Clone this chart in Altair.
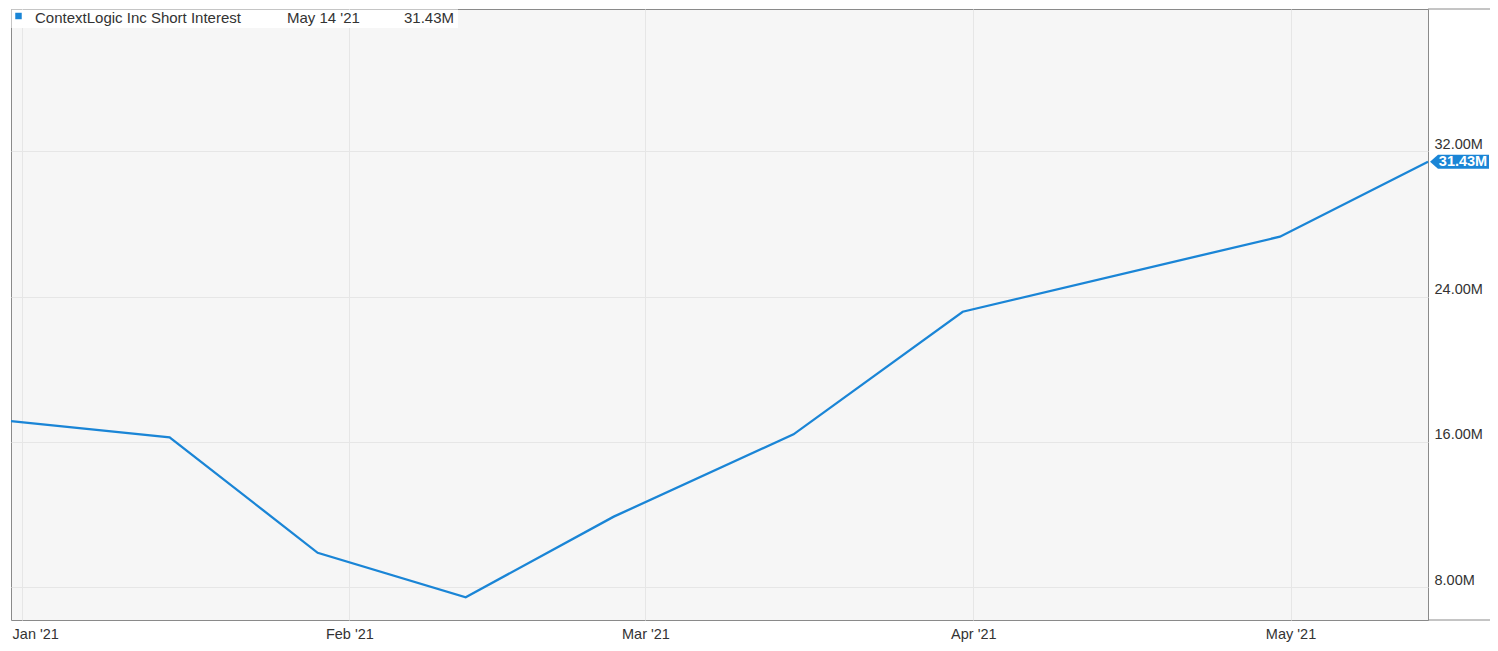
import altair as alt
import pandas as pd

# ---- data ----
dates = ["2020-12-31", "2021-01-15", "2021-01-29", "2021-02-12", "2021-02-26",
         "2021-03-15", "2021-03-31", "2021-04-30", "2021-05-14"]
values = [17.15, 16.26, 9.90, 7.45, 11.89, 16.42, 23.17, 27.30, 31.43]
series_name = "ContextLogic Inc Short Interest"
x_ticks = ["2021-01-01", "2021-02-01", "2021-03-01", "2021-04-01", "2021-05-01"]
y_ticks = [8, 16, 24, 32]
last_date_label = "May 14 '21"
last_value_label = "31.43M"

BLUE = "#1a85d6"
FONT = "Liberation Sans"
TXT = "#333333"
GRID = "#e6e6e6"
BORDER = "#8a8a8a"
W, H = 1417, 611
RIGHT_PAD = 62

df = pd.DataFrame({"date": dates, "value": values})
last = df.tail(1).assign(label=last_value_label, dlabel=last_date_label, name=series_name)
one = pd.DataFrame({"a": [0]})


def dt(s):
    t = pd.Timestamp(s)
    return alt.DateTime(year=t.year, month=t.month, date=t.day, utc=True)


x_scale = alt.Scale(type="utc", domain=[dt(dates[0]), dt(dates[-1])], nice=False)
y_scale = alt.Scale(domain=[6.20, 39.833], nice=False, zero=False)

x_enc = alt.X(
    "date:T", scale=x_scale, title=None,
    axis=alt.Axis(
        values=[dt(s) for s in x_ticks],
        labelExpr="utcFormat(datum.value, \"%b '%y\")",
        grid=True, gridColor=GRID, ticks=False, tickSize=0, domain=False,
        labelPadding=18, labelBaseline="alphabetic",
        labelFlush=15, labelFlushOffset=9.5,
        labelFont=FONT, labelFontSize=14.5, labelColor=TXT,
    ),
)
y_enc = alt.Y(
    "value:Q", scale=y_scale, title=None,
    axis=alt.Axis(
        orient="right", values=y_ticks,
        labelExpr="format(datum.value, '.2f') + 'M'",
        grid=True, gridColor=GRID, ticks=False, tickSize=0, domain=False,
        labelPadding=6, labelAlign="left", labelBaseline="alphabetic", labelOffset=-3,
        labelFont=FONT, labelFontSize=14.5, labelColor=TXT,
    ),
)

line = alt.Chart(df).mark_line(color=BLUE, strokeWidth=2.3).encode(x=x_enc, y=y_enc)

tag_path = "M-1,0L-0.73,-0.237L1,-0.237L1,0.237L-0.73,0.237Z"
tag = alt.Chart(last).mark_point(
    shape=tag_path, size=3481, filled=True, fill=BLUE, opacity=1, strokeWidth=0, xOffset=31.5
).encode(x="date:T", y="value:Q")
tag_text = alt.Chart(last).mark_text(
    color="white", fontWeight="bold", fontSize=14.5, font=FONT,
    align="center", baseline="middle", dx=35, dy=0
).encode(x="date:T", y="value:Q", text="label:N")

# legend box (top-left), drawn just inside the top frame line
leg_bg = alt.Chart(one).mark_rect(color="white", opacity=1).encode(
    x=alt.value(0.5), x2=alt.value(447), y=alt.value(0.5), y2=alt.value(19)
)
leg_sq = alt.Chart(one).mark_square(size=42, color=BLUE, opacity=1).encode(
    x=alt.value(7.5), y=alt.value(7)
)
leg_txt_style = dict(align="left", baseline="alphabetic", fontSize=15, font=FONT, color=TXT)
leg_name = alt.Chart(last).mark_text(**leg_txt_style).encode(
    x=alt.value(24), y=alt.value(14), text="name:N"
)
leg_date = alt.Chart(last).mark_text(**leg_txt_style).encode(
    x=alt.value(276), y=alt.value(14), text="dlabel:N"
)
leg_val = alt.Chart(last).mark_text(**leg_txt_style).encode(
    x=alt.value(393), y=alt.value(14), text="label:N"
)

# border extensions to the right of the plot frame
ext_top = alt.Chart(one).mark_rule(color=BORDER, strokeWidth=1).encode(
    x=alt.value(W), x2=alt.value(W + RIGHT_PAD), y=alt.value(0)
)
ext_bot = alt.Chart(one).mark_rule(color=BORDER, strokeWidth=1).encode(
    x=alt.value(W), x2=alt.value(W + RIGHT_PAD), y=alt.value(H)
)

chart = alt.layer(
    line, leg_bg, leg_sq, leg_name, leg_date, leg_val, ext_top, ext_bot, tag, tag_text
).properties(
    width=W, height=H,
    autosize=alt.AutoSizeParams(type="none"),
    padding={"left": 3, "top": 1, "right": RIGHT_PAD, "bottom": 22},
    background="white",
).configure_view(
    stroke=BORDER, strokeWidth=1, fill="#f6f6f6"
)

chart.save("out.html", embed_options={"renderer": "svg", "actions": False})
